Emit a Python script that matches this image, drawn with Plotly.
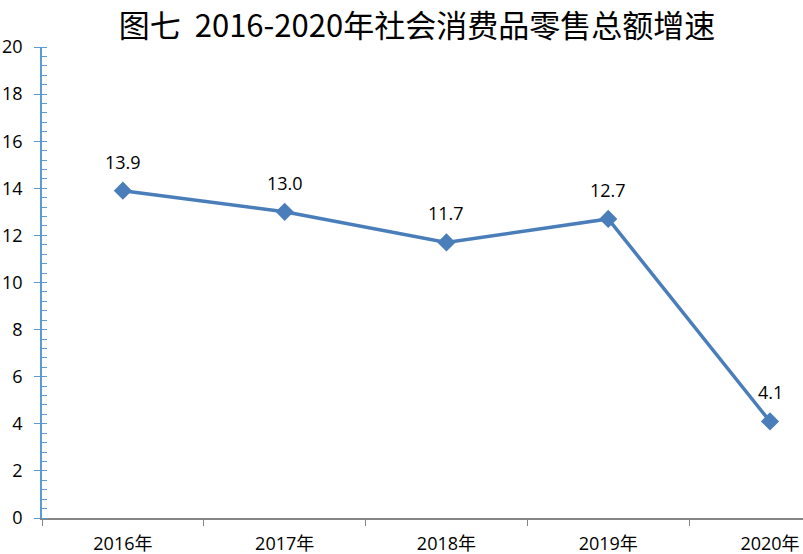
import plotly.graph_objects as go

categories = ["2016年", "2017年", "2018年", "2019年", "2020年"]
values = [13.9, 13.0, 11.7, 12.7, 4.1]
labels = ["13.9", "13.0", "11.7", "12.7", "4.1"]
title_text = "图七&nbsp; 2016-2020年社会消费品零售总额增速"

line_color = "#4A7EBB"
axis_blue = "#5B9BD5"
axis_gray = "#868686"
label_font = "Open Sans, Noto Sans CJK SC, sans-serif"

fig = go.Figure()
fig.add_trace(go.Scatter(
    x=categories, y=values, mode="lines+markers",
    line=dict(color=line_color, width=3.5),
    marker=dict(symbol="diamond", size=14, color=line_color),
    showlegend=False, cliponaxis=False, hoverinfo="skip",
))

for c, v, t in zip(categories, values, labels):
    fig.add_annotation(x=c, y=v, text=t, showarrow=False, yshift=29,
                       font=dict(family=label_font, size=18, color="#000000"))

fig.update_layout(
    width=803, height=554,
    margin=dict(l=42, r=0, t=47, b=36, autoexpand=False),
    paper_bgcolor="white", plot_bgcolor="white",
    title=dict(text=title_text, x=417 / 803, xanchor="center", y=1 - 26 / 554, yanchor="middle",
               automargin=False,
               font=dict(family="Noto Sans CJK SC", size=31, color="#000000")),
    xaxis=dict(
        type="category", range=[-0.5, 4.204], automargin=False,
        showgrid=False, zeroline=False,
        showline=True, linecolor=axis_gray, linewidth=1.5,
        ticks="outside", ticklen=6, tickcolor=axis_gray, tickwidth=1,
        tickson="boundaries", ticklabelstandoff=9,
        tickfont=dict(family=label_font, size=18, color="#000000"),
    ),
    yaxis=dict(
        range=[0, 20], dtick=2, tick0=0, automargin=False,
        showgrid=False, zeroline=False,
        showline=True, linecolor=axis_blue, linewidth=1.5,
        ticks="outside", ticklen=6, tickcolor=axis_blue, tickwidth=1,
        ticklabelstandoff=8,
        minor=dict(ticks="inside", dtick=0.4, ticklen=5, tickcolor=axis_blue, tickwidth=1),
        tickfont=dict(family=label_font, size=18, color="#000000"),
    ),
)

fig.write_html("out.html", config={"displayModeBar": False},
               post_script="document.body.style.margin='0px';document.body.style.overflow='hidden';")
